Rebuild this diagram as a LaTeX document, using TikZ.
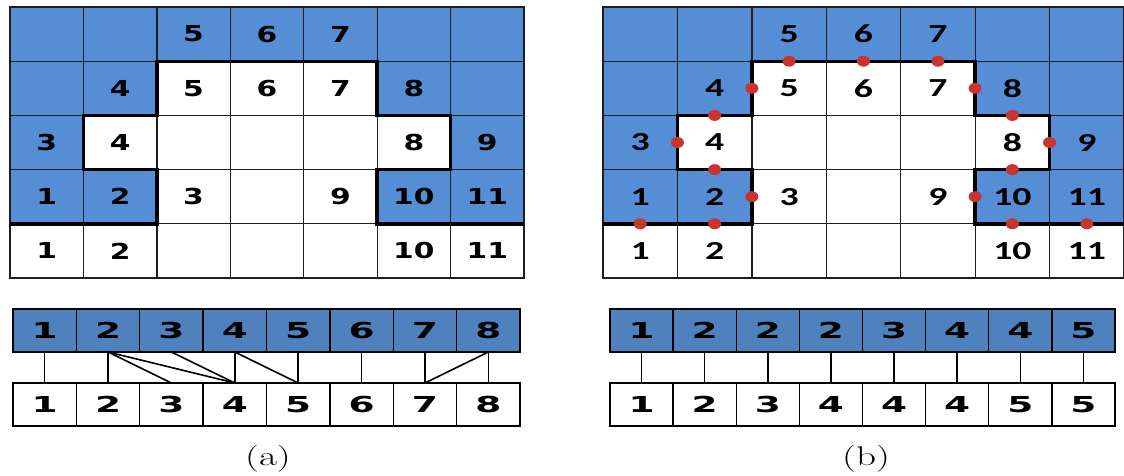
\documentclass[tikz,border=0pt]{standalone}
\usepackage{fontspec}
\usepackage{graphicx}
\usetikzlibrary{shapes.geometric}
\newfontfamily\gridafont[FakeStretch=1.35]{DejaVu Sans}
\newfontfamily\gridbfont[FakeStretch=1.45]{Carlito}
\newfontfamily\barfont[FakeStretch=1.7]{DejaVu Sans}
\definecolor{gridblue}{RGB}{85,142,213}
\definecolor{barblue}{RGB}{79,129,189}
\definecolor{dotred}{RGB}{200,52,48}
\definecolor{linegray}{RGB}{30,30,30}
\def\celllist{0/0/gridblue/{},1/0/gridblue/{},2/0/gridblue/5,3/0/gridblue/6,4/0/gridblue/7,5/0/gridblue/{},6/0/gridblue/{},%
0/1/gridblue/{},1/1/gridblue/4,2/1/white/5,3/1/white/6,4/1/white/7,5/1/gridblue/8,6/1/gridblue/{},%
0/2/gridblue/3,1/2/white/4,2/2/white/{},3/2/white/{},4/2/white/{},5/2/white/8,6/2/gridblue/9,%
0/3/gridblue/1,1/3/gridblue/2,2/3/white/3,3/3/white/{},4/3/white/9,5/3/gridblue/10,6/3/gridblue/11,%
0/4/white/1,1/4/white/2,2/4/white/{},3/4/white/{},4/4/white/{},5/4/white/10,6/4/white/11}
\tikzset{
  cellbox/.style={draw=linegray, line width=1.3pt, minimum height=54.2pt, inner sep=0pt, outer sep=0pt},
  cella/.style={cellbox, minimum width=73.43pt, font=\gridafont\bfseries\fontsize{22}{22}\selectfont},
  cellb/.style={cellbox, minimum width=74.43pt, font=\gridbfont\bfseries\fontsize{26}{26}\selectfont},
  outline/.style={line width=3.4pt, line cap=butt, line join=miter},
  dot/.style={ellipse, fill=dotred, minimum width=13pt, minimum height=11pt, inner sep=0pt},
  barcell/.style={draw=black, line width=1.4pt, minimum height=43pt, inner sep=0pt, outer sep=0pt,
    font=\barfont\bfseries\fontsize{22}{22}\selectfont},
  bara/.style={barcell, minimum width=63.375pt},
  barb/.style={barcell, minimum width=63.125pt},
  conn/.style={line width=1.6pt},
  caption/.style={font=\fontsize{27}{27}\selectfont, inner sep=0pt}
}
\begin{document}
\begin{tikzpicture}[x=1pt,y=-1pt]
\useasboundingbox (0,0) rectangle (1124,475);
\fill[white] (0,0) rectangle (1124,475);
% grids
\foreach \c/\r/\f/\t in \celllist {
  \node[cella, fill=\f] (a-\c-\r) at ({10+73.43*(\c+0.5)}, {7+54.2*(\r+0.5)}) {\t};
  \node[cellb, fill=\f] (b-\c-\r) at ({603+74.43*(\c+0.5)}, {7+54.2*(\r+0.5)}) {\t};
}
% thick outlines
\begin{scope}[shift={(10,7)}, x=73.43pt, y=-54.2pt]
  \draw[outline] (0,4) -- (2,4) -- (2,3) -- (1,3) -- (1,2) -- (2,2) -- (2,1) -- (5,1) -- (5,2) -- (6,2) -- (6,3) -- (5,3) -- (5,4) -- (7,4);
\end{scope}
\begin{scope}[shift={(603,7)}, x=74.43pt, y=-54.2pt]
  \draw[outline] (0,4) -- (2,4) -- (2,3) -- (1,3) -- (1,2) -- (2,2) -- (2,1) -- (5,1) -- (5,2) -- (6,2) -- (6,3) -- (5,3) -- (5,4) -- (7,4);
  \foreach \n/\p in {1/{2.5,1},2/{3.5,1},3/{4.5,1},4/{2,1.5},5/{1.5,2},6/{1,2.5},7/{1.5,3},8/{2,3.5},9/{0.5,4},10/{1.5,4},11/{5,1.5},12/{5.5,2},13/{6,2.5},14/{5.5,3},15/{5,3.5},16/{5.5,4},17/{6.5,4}}
    \node[dot] (d\n) at (\p) {};
\end{scope}
% bars (a)
\foreach \i/\t in {1/1,2/2,3/3,4/4,5/5,6/6,7/7,8/8} {
  \node[bara, fill=barblue] (ta\i) at ({13+63.375*(\i-0.5)}, 330.5) {\t};
  \node[bara, fill=white] (ba\i) at ({13+63.375*(\i-0.5)}, 404.5) {\t};
}
\foreach \s/\e in {1/1,2/2,2/3,2/4,3/4,4/4,4/5,5/5,6/6,7/7,8/8,8/7}
  \draw[conn] (ta\s.south) -- (ba\e.north);
% bars (b)
\foreach \i/\t/\u in {1/1/1,2/2/2,3/2/3,4/2/4,5/3/4,6/4/4,7/4/5,8/5/5} {
  \node[barb, fill=barblue] (tb\i) at ({610+63.125*(\i-0.5)}, 330.5) {\t};
  \node[barb, fill=white] (bb\i) at ({610+63.125*(\i-0.5)}, 404.5) {\u};
}
\foreach \i in {1,...,8}
  \draw[conn] (tb\i.south) -- (bb\i.north);
% captions
\node[caption] (capa) at (268,459) {\scalebox{1.45}[1]{(a)}};
\node[caption] (capb) at (866,459) {\scalebox{1.45}[1]{(b)}};
\end{tikzpicture}
\end{document}
